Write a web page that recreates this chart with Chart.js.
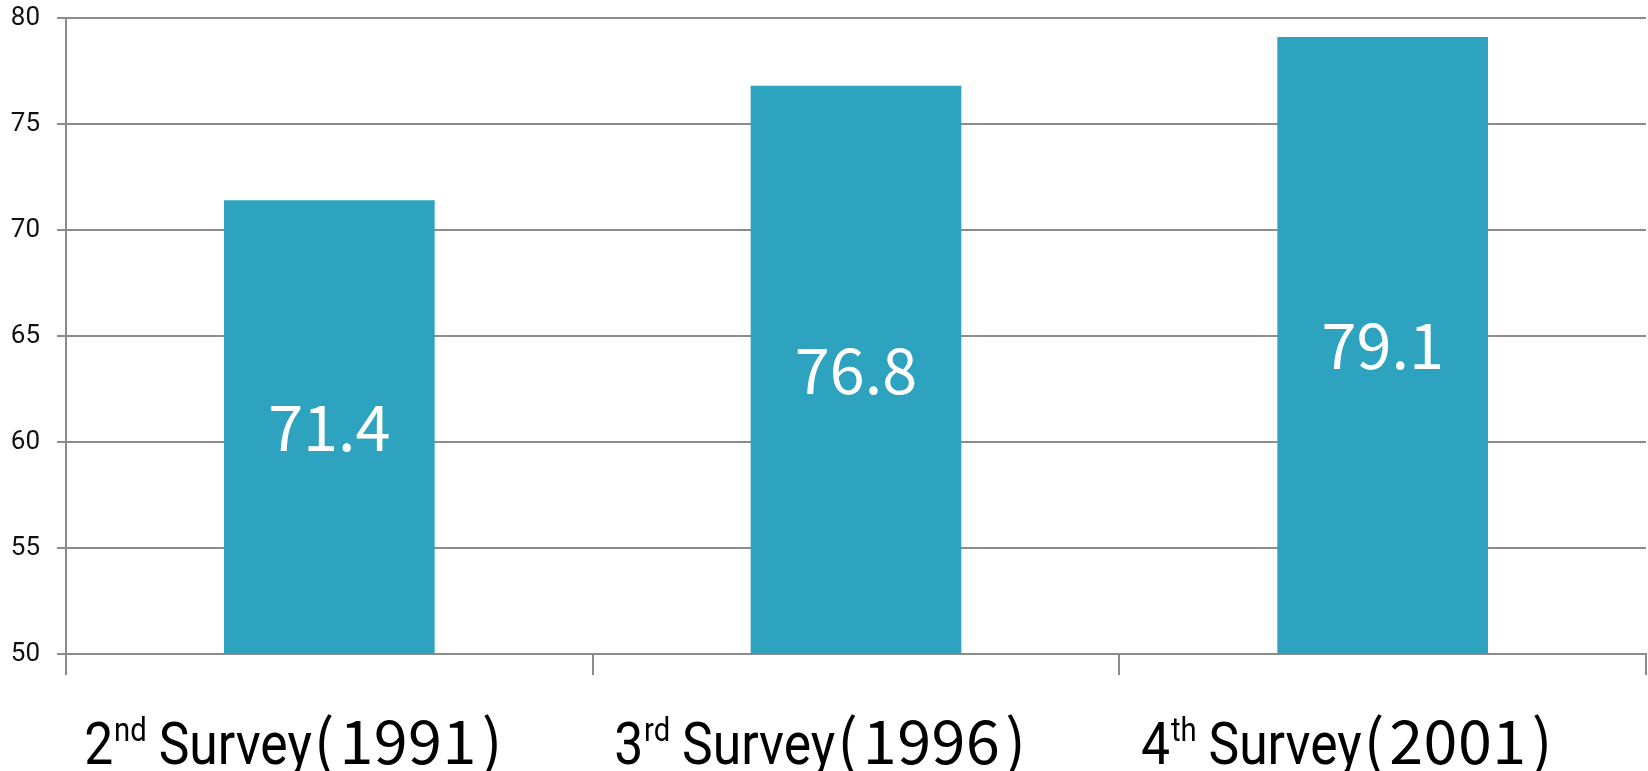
<!DOCTYPE html>
<html>
<head>
<meta charset="utf-8">
<script src="https://cdn.jsdelivr.net/npm/chart.js@4.4.0/dist/chart.umd.min.js"></script>
<style>
  html, body { margin: 0; padding: 0; background: #ffffff; }
  #wrap { width: 1648px; height: 771px; }
</style>
</head>
<body>
<div id="wrap"><canvas id="chart" width="1648" height="771"></canvas></div>
<script>
// Survey rounds, their ordinal suffixes and years
const surveyNumbers = ['2', '3', '4'];
const ordinalSuffixes = ['nd', 'rd', 'th'];
const surveyYears = ['1991', '1996', '2001'];
const categories = surveyNumbers.map((n, i) => `${n}${ordinalSuffixes[i]} Survey(${surveyYears[i]})`);

// Bar values
const values = [71.4, 76.8, 79.1];

// Value axis range and tick step
const yMin = 50;
const yMax = 80;
const yStep = 5;

const BAR_COLOR = '#2ea3bf';
const GRID_COLOR = '#8c8c8c';

const MAIN_FONT = '60px Roboto';
const SUP_FONT = '34px Roboto';
const YEAR_FONT = '61px "Noto Sans CJK JP"';
const VALUE_FONT = '63px "Noto Sans CJK JP"';

// Category labels: ordinal with a raised suffix, condensed word, then the year in parentheses
const categoryLabelPlugin = {
  id: 'categoryLabels',
  afterDraw(chart) {
    const ctx = chart.ctx;
    const xs = chart.scales.x;
    const baseline = 764;
    const squeeze = 0.86;
    const parenGap = 5;
    const digitSpacing = 0.5;
    ctx.save();
    ctx.fillStyle = '#000000';
    ctx.textBaseline = 'alphabetic';
    ctx.textAlign = 'left';
    for (let i = 0; i < categories.length; i++) {
      const num = surveyNumbers[i];
      const suf = ordinalSuffixes[i];
      const word = ' Survey';
      const year = surveyYears[i];
      ctx.font = MAIN_FONT;
      const wNum = ctx.measureText(num).width;
      const wWord = ctx.measureText(word).width;
      ctx.font = SUP_FONT;
      const wSuf = ctx.measureText(suf).width;
      ctx.font = YEAR_FONT;
      const wOpen = ctx.measureText('(').width;
      const wClose = ctx.measureText(')').width;
      const wDigits = ctx.measureText(year).width + digitSpacing * year.length;
      const wYear = wOpen + parenGap + wDigits + parenGap + wClose;
      const wLeft = (wNum + wSuf + wWord) * squeeze;
      const gap = 2;
      const total = wLeft + gap + wYear;
      const cx = xs.getPixelForTick(i);
      const x = cx - total / 2 - 36;

      ctx.save();
      ctx.translate(x, baseline);
      ctx.scale(squeeze, 1);
      ctx.font = MAIN_FONT;
      ctx.fillText(num, 0, 0);
      ctx.font = SUP_FONT;
      ctx.fillText(suf, wNum + 1, -23);
      ctx.font = MAIN_FONT;
      ctx.fillText(word, wNum + wSuf, 0);
      ctx.restore();

      ctx.font = YEAR_FONT;
      let yx = x + wLeft + gap;
      ctx.fillText('(', yx, baseline);
      yx += wOpen + parenGap;
      for (const ch of year) {
        ctx.fillText(ch, yx, baseline);
        yx += ctx.measureText(ch).width + digitSpacing;
      }
      yx += parenGap;
      ctx.fillText(')', yx, baseline);
    }
    ctx.restore();
  }
};

// Value written in the middle of each bar
const barValuePlugin = {
  id: 'barValues',
  afterDraw(chart) {
    const ctx = chart.ctx;
    const ys = chart.scales.y;
    const xs = chart.scales.x;
    const data = chart.data.datasets[0].data;
    ctx.save();
    ctx.fillStyle = '#ffffff';
    ctx.font = VALUE_FONT;
    ctx.textAlign = 'center';
    ctx.textBaseline = 'middle';
    for (let i = 0; i < data.length; i++) {
      const v = data[i];
      const top = ys.getPixelForValue(v);
      const bottom = ys.getPixelForValue(yMin);
      ctx.fillText(v.toFixed(1), xs.getPixelForValue(i), (top + bottom) / 2);
    }
    ctx.restore();
  }
};

function build() {
  new Chart(document.getElementById('chart'), {
    type: 'bar',
    data: {
      labels: categories,
      datasets: [{
        data: values,
        backgroundColor: BAR_COLOR,
        borderWidth: 0,
        barPercentage: 0.4,
        categoryPercentage: 1.0
      }]
    },
    options: {
      responsive: false,
      animation: false,
      devicePixelRatio: 1,
      layout: { padding: { top: 18, right: 2, left: 0, bottom: 0 } },
      plugins: {
        legend: { display: false },
        tooltip: { enabled: false }
      },
      scales: {
        x: {
          offset: true,
          grid: {
            offset: true,
            drawOnChartArea: false,
            drawTicks: true,
            tickLength: 21,
            color: GRID_COLOR,
            lineWidth: 2
          },
          border: { display: true, color: GRID_COLOR, width: 2 },
          ticks: { display: false },
          afterFit(scale) {
            scale.height = 117;
            scale.paddingLeft = 0;
            scale.paddingRight = 0;
          }
        },
        y: {
          min: yMin,
          max: yMax,
          ticks: {
            stepSize: yStep,
            color: '#111111',
            font: { family: 'Roboto', size: 26 },
            padding: 17
          },
          grid: {
            color: GRID_COLOR,
            lineWidth: 2,
            tickLength: 9
          },
          border: { display: true, color: GRID_COLOR, width: 2 },
          afterFit(scale) {
            scale.width = 66;
            scale.paddingTop = 0;
            scale.paddingBottom = 0;
          }
        }
      }
    },
    plugins: [barValuePlugin, categoryLabelPlugin]
  });
}

const fontLoads = [MAIN_FONT, SUP_FONT, YEAR_FONT, VALUE_FONT, '26px Roboto']
  .map(f => document.fonts.load(f, '0123456789().Survey'));
Promise.all(fontLoads).then(build, build);
</script>
</body>
</html>
